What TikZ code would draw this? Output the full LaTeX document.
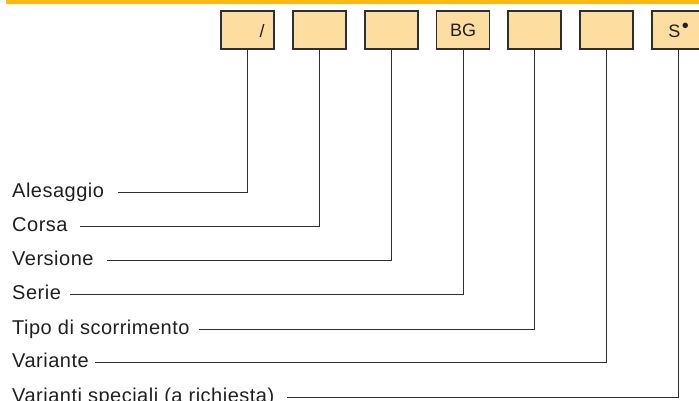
\documentclass[tikz,border=0pt]{standalone}
\usepackage{fontspec}
\setmainfont{Liberation Sans}
\newfontfamily\labfont[LetterSpace=2.5]{Liberation Sans}
\definecolor{barorange}{HTML}{FDB913}
\definecolor{boxfill}{HTML}{FEDDA0}
\definecolor{linegray}{HTML}{2E2E2E}
\begin{document}
\begin{tikzpicture}[x=1pt,y=-1pt,
  codebox/.style={draw=linegray, line width=1.1pt, fill=boxfill, minimum width=53pt, minimum height=38pt, inner sep=0pt, font=\fontsize{18}{18}\selectfont, text=black!88},
  labeltext/.style={anchor=base west, inner sep=0pt, font=\labfont\fontsize{20}{20}\selectfont, text=black!88},
  leader/.style={draw=linegray, line width=1pt}]
\useasboundingbox (0,0) rectangle (699,401);
\fill[barorange] (6,0) rectangle (699,3.7);
% boxes
\node[codebox] (b1) at (247.5,30) {};
\node[codebox] (b2) at (319.5,30) {};
\node[codebox] (b3) at (391.5,30) {};
\node[codebox] (b4) at (463,30) {BG};
\node[codebox] (b5) at (534.5,30) {};
\node[codebox] (b6) at (606.5,30) {};
\node[codebox] (b7) at (678.5,30) {S\kern1.5pt\raisebox{5pt}{\fontsize{20}{20}\selectfont •}};
\node[inner sep=0pt, font=\fontsize{18}{18}\selectfont, text=black!88] (slash) at (262,31) {/};
% labels
\node[labeltext] (l1) at (12,197.7) {Alesaggio};
\node[labeltext] (l2) at (12,231.7) {Corsa};
\node[labeltext] (l3) at (12,265.4) {Versione};
\node[labeltext] (l4) at (12,299.4) {Serie};
\node[labeltext] (l5) at (12,334.4) {Tipo di scorrimento};
\node[labeltext] (l6) at (12,367.4) {Variante};
\node[labeltext] (l7) at (12,402.5) {Varianti speciali (a richiesta)};
% leader start points
\coordinate (c1) at (118,192.3);
\coordinate (c2) at (80,226.3);
\coordinate (c3) at (107,260);
\coordinate (c4) at (70,294);
\coordinate (c5) at (199,329);
\coordinate (c6) at (95,362);
\coordinate (c7) at (287,397);
\foreach \i in {1,...,7}{
  \draw[leader] (b\i.south) |- (c\i);
}
\end{tikzpicture}
\end{document}
